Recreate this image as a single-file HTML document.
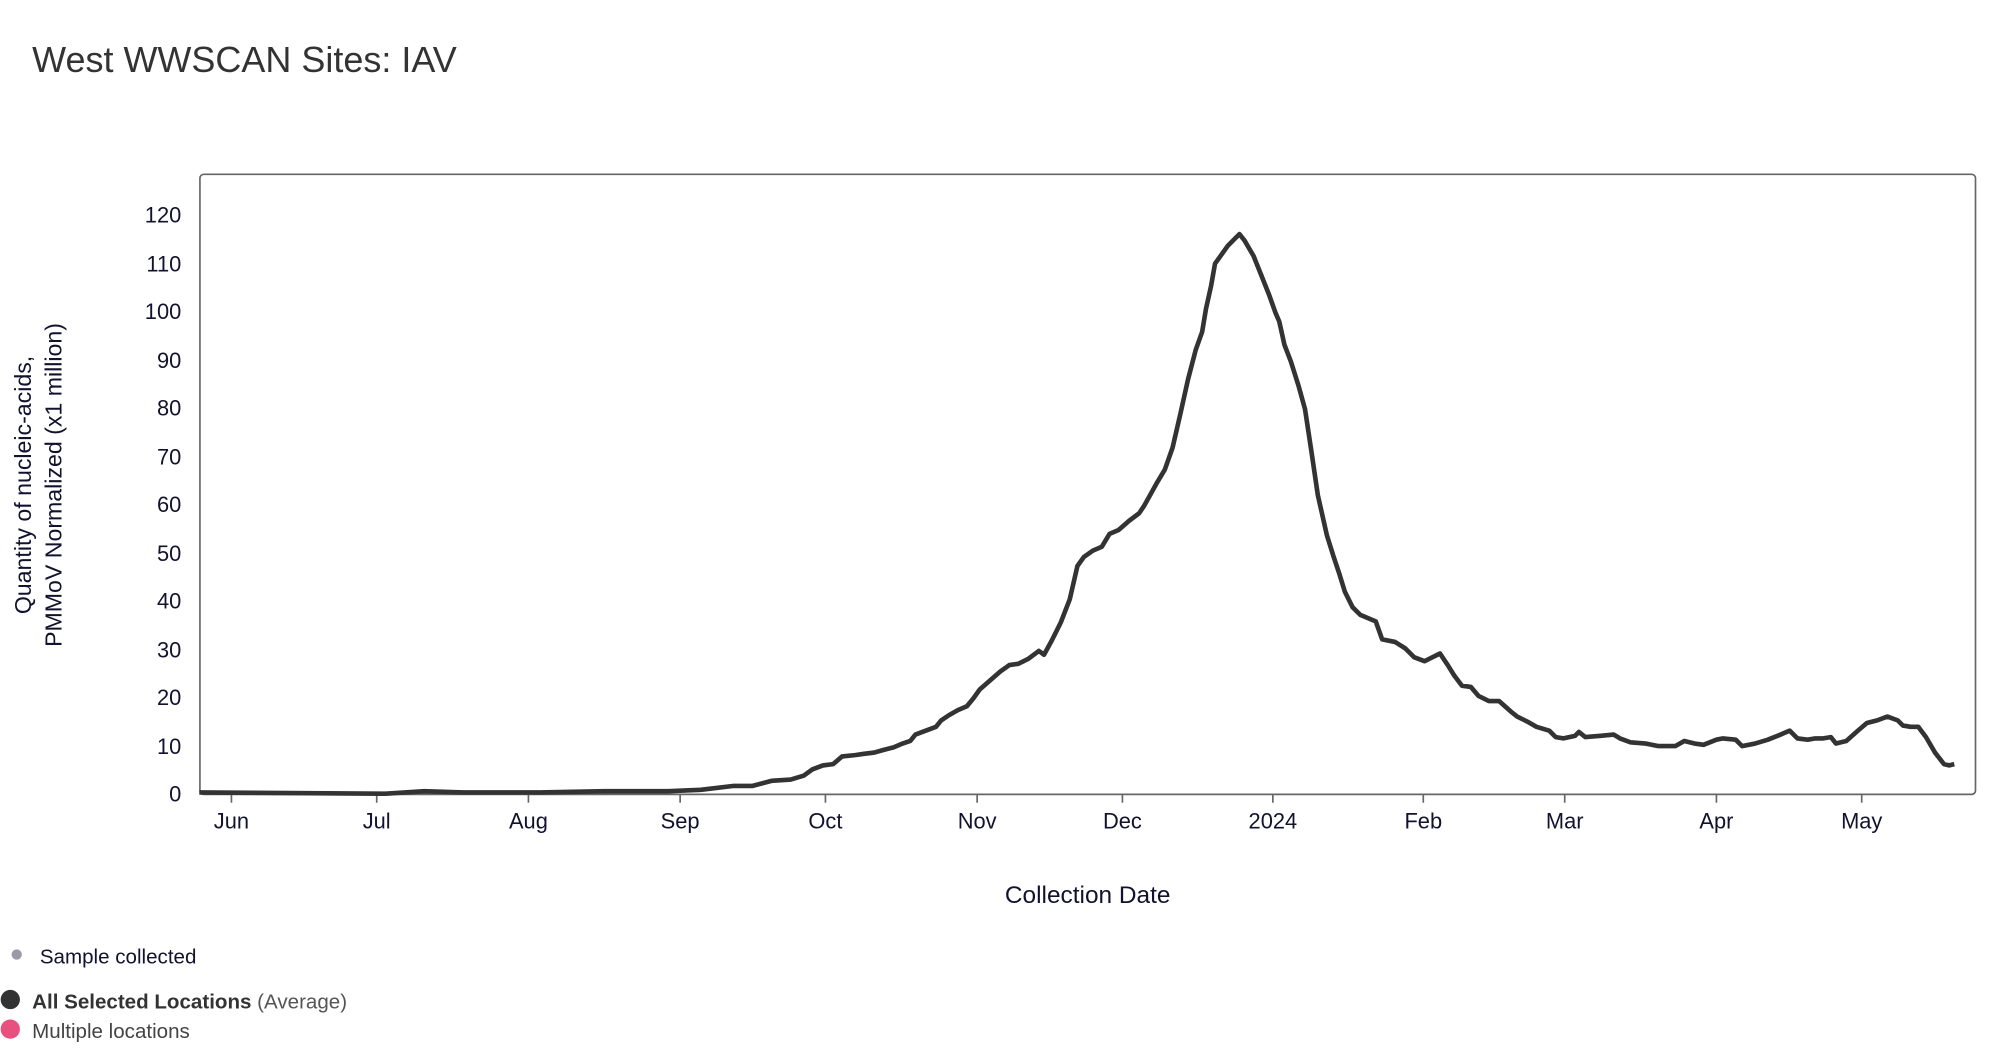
<!DOCTYPE html>
<html><head><meta charset="utf-8"><style>
html,body{margin:0;padding:0;background:#fff;width:2016px;height:1060px;overflow:hidden}
svg{display:block}
text{font-family:"Liberation Sans",sans-serif;fill:#12122e}
</style></head><body>
<svg width="2016" height="1060" viewBox="0 0 1568 824" preserveAspectRatio="none">
<text x="25" y="56" font-size="28" fill="#333" style="fill:#333">West WWSCAN Sites: IAV</text>
<rect x="155.5" y="135.5" width="1381" height="482" rx="3" fill="none" stroke="#666" stroke-width="1.3"/>
<g font-size="17" text-anchor="end">
<text x="141" y="623">0</text><text x="141" y="586">10</text><text x="141" y="548">20</text>
<text x="141" y="511">30</text><text x="141" y="473">40</text><text x="141" y="436">50</text>
<text x="141" y="398">60</text><text x="141" y="361">70</text><text x="141" y="323">80</text>
<text x="141" y="286">90</text><text x="141" y="248">100</text><text x="141" y="211">110</text>
<text x="141" y="173">120</text>
</g>
<g stroke="#666" stroke-width="1.3">
<line x1="180" y1="617" x2="180" y2="624"/><line x1="293" y1="617" x2="293" y2="624"/>
<line x1="411" y1="617" x2="411" y2="624"/><line x1="529" y1="617" x2="529" y2="624"/>
<line x1="642" y1="617" x2="642" y2="624"/><line x1="760" y1="617" x2="760" y2="624"/>
<line x1="873" y1="617" x2="873" y2="624"/><line x1="990" y1="617" x2="990" y2="624"/>
<line x1="1107" y1="617" x2="1107" y2="624"/><line x1="1217" y1="617" x2="1217" y2="624"/>
<line x1="1335" y1="617" x2="1335" y2="624"/><line x1="1448" y1="617" x2="1448" y2="624"/>
</g>
<g font-size="17" text-anchor="middle">
<text x="180" y="644">Jun</text><text x="293" y="644">Jul</text><text x="411" y="644">Aug</text>
<text x="529" y="644">Sep</text><text x="642" y="644">Oct</text><text x="760" y="644">Nov</text>
<text x="873" y="644">Dec</text><text x="990" y="644">2024</text><text x="1107" y="644">Feb</text>
<text x="1217" y="644">Mar</text><text x="1335" y="644">Apr</text><text x="1448" y="644">May</text>
</g>
<text x="846" y="702" font-size="19" text-anchor="middle">Collection Date</text>
<g transform="translate(24,377) rotate(-90)" font-size="18" text-anchor="middle">
<text x="0" y="0">Quantity of nucleic-acids,</text>
<text x="0" y="24">PMMoV Normalized (x1 million)</text>
</g>
<polyline fill="none" stroke="#333" stroke-width="3.6" stroke-linejoin="round" points="155,616 300,617 330,615 360,616 420,616 470,615 520,615 545,614 570,611 585,611 600,607 615,606 625,603 632,598 640,595 648,594 655,588 665,587 672,586 680,585 687,583 695,581 702,578 708,576 712,571 720,568 728,565 732,560 738,556 745,552 752,549 757,543 762,536 770,529 778,522 785,517 792,516 800,512 808,506 812,509 818,498 825,484 832,466 838,440 843,433 850,428 857,425 863,415 870,412 878,405 886,399 890,393 895,384 900,375 906,365 912,348 918,322 924,295 930,272 935,258 938,240 942,222 945,205 950,198 955,191 960,186 964,182 968,187 975,199 981,214 987,229 992,243 995,250 999,268 1004,281 1010,300 1015,318 1020,351 1025,385 1032,416 1037,432 1042,447 1046,460 1052,472 1058,478 1070,483 1075,497 1085,499 1093,504 1100,511 1108,514 1114,511 1120,508 1126,517 1131,525 1137,533 1144,534 1150,541 1158,545 1166,545 1175,553 1180,557 1188,561 1195,565 1205,568 1210,573 1216,574 1225,572 1228,569 1233,573 1245,572 1255,571 1260,574 1268,577 1280,578 1290,580 1303,580 1310,576 1318,578 1325,579 1335,575 1340,574 1350,575 1355,580 1365,578 1375,575 1385,571 1392,568 1398,574 1406,575 1412,574 1418,574 1424,573 1428,578 1436,576 1445,568 1452,562 1460,560 1468,557 1476,560 1480,564 1486,565 1492,565 1498,573 1505,585 1512,594 1516,595 1520,594"/>
<circle cx="13" cy="742" r="4" fill="#9a9aa6"/>
<text x="31" y="749" font-size="16">Sample collected</text>
<circle cx="8" cy="777" r="7.5" fill="#333"/>
<text x="25" y="784" font-size="16" style="fill:#333"><tspan font-weight="bold">All Selected Locations</tspan> <tspan style="fill:#555">(Average)</tspan></text>
<circle cx="8" cy="800" r="7.5" fill="#e8507f"/>
<text x="25" y="807" font-size="16" style="fill:#444">Multiple locations</text>
</svg>
</body></html>
